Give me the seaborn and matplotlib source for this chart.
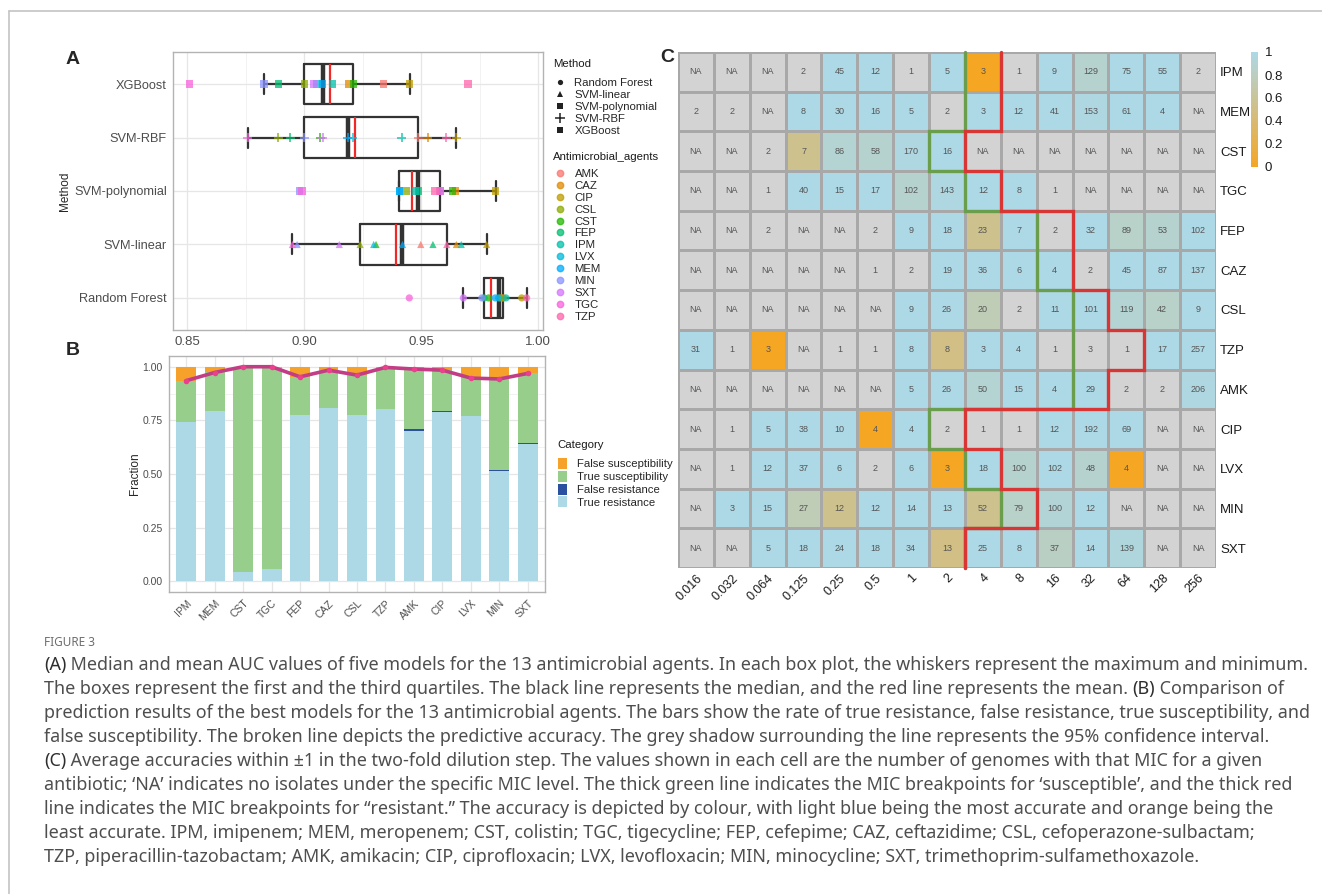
import matplotlib
matplotlib.use("Agg")
import matplotlib.pyplot as plt
from matplotlib.colors import LinearSegmentedColormap, ListedColormap
from matplotlib.lines import Line2D
from matplotlib.patches import Patch
import seaborn as sns
import numpy as np
import pandas as pd

# ---------------- Panel A: AUC per method / agent ----------------
agents = ["AMK", "CAZ", "CIP", "CSL", "CST", "FEP", "IPM", "LVX", "MEM", "MIN", "SXT", "TGC", "TZP"]
agent_colors = ["#F8766D", "#E18A00", "#BE9C00", "#8CAB00", "#24B700", "#00BE70", "#00C1AB",
                "#00BBDA", "#00ACFC", "#8B93FF", "#D575FE", "#F962DD", "#FF65AC"]
methods = ["Random Forest", "SVM-linear", "SVM-polynomial", "SVM-RBF", "XGBoost"]
method_order = ["XGBoost", "SVM-RBF", "SVM-polynomial", "SVM-linear", "Random Forest"]

auc_rf = [0.9845, 0.9851, 0.9929, 0.9838, 0.9788, 0.9769, 0.9862, 0.9830, 0.9816, 0.9759, 0.9680, 0.9449, 0.9950]
auc_svm_linear = [0.9498, 0.9650, 0.9779, 0.9239, 0.9307, 0.9550, 0.9671, 0.9297, 0.9420, 0.8970, 0.9150, 0.8950, 0.9609]
auc_svm_poly = [0.9582, 0.9645, 0.9818, 0.9438, 0.9635, 0.9488, 0.9476, 0.9407, 0.9407, 0.8980, 0.9580, 0.8991, 0.9559]
auc_svm_rbf = [0.9488, 0.9528, 0.9650, 0.8890, 0.9068, 0.8940, 0.9417, 0.9207, 0.9186, 0.9001, 0.9080, 0.8759, 0.9607]
auc_xgb = [0.9340, 0.9190, 0.9450, 0.9000, 0.9210, 0.8890, 0.9120, 0.9055, 0.9080, 0.8829, 0.9040, 0.8510, 0.9700]

# ---------------- Panel B: prediction categories ----------------
b_agents = ["IPM", "MEM", "CST", "TGC", "FEP", "CAZ", "CSL", "TZP", "AMK", "CIP", "LVX", "MIN", "SXT"]
true_res = [0.744, 0.795, 0.042, 0.057, 0.776, 0.806, 0.773, 0.803, 0.702, 0.790, 0.769, 0.512, 0.641]
false_res = [0.000, 0.000, 0.000, 0.000, 0.000, 0.000, 0.003, 0.000, 0.009, 0.002, 0.000, 0.008, 0.003]
true_sus = [0.191, 0.180, 0.958, 0.943, 0.177, 0.178, 0.185, 0.194, 0.278, 0.192, 0.178, 0.423, 0.326]
false_sus = [0.065, 0.025, 0.000, 0.000, 0.047, 0.016, 0.039, 0.003, 0.011, 0.016, 0.053, 0.057, 0.030]
accuracy = [0.935, 0.973, 1.000, 1.000, 0.953, 0.984, 0.961, 0.997, 0.989, 0.984, 0.947, 0.943, 0.969]

# ---------------- Panel C: MIC heatmap ----------------
mic_levels = ["0.016", "0.032", "0.064", "0.125", "0.25", "0.5", "1", "2", "4", "8", "16", "32", "64", "128", "256"]
c_agents = ["IPM", "MEM", "CST", "TGC", "FEP", "CAZ", "CSL", "TZP", "AMK", "CIP", "LVX", "MIN", "SXT"]
counts = [
    ["NA", "NA", "NA", "2", "45", "12", "1", "5", "3", "1", "9", "129", "75", "55", "2"],
    ["2", "2", "NA", "8", "30", "16", "5", "2", "3", "12", "41", "153", "61", "4", "NA"],
    ["NA", "NA", "2", "7", "86", "58", "170", "16", "NA", "NA", "NA", "NA", "NA", "NA", "NA"],
    ["NA", "NA", "1", "40", "15", "17", "102", "143", "12", "8", "1", "NA", "NA", "NA", "NA"],
    ["NA", "NA", "2", "NA", "NA", "2", "9", "18", "23", "7", "2", "32", "89", "53", "102"],
    ["NA", "NA", "NA", "NA", "NA", "1", "2", "19", "36", "6", "4", "2", "45", "87", "137"],
    ["NA", "NA", "NA", "NA", "NA", "NA", "9", "26", "20", "2", "11", "101", "119", "42", "9"],
    ["31", "1", "3", "NA", "1", "1", "8", "8", "3", "4", "1", "3", "1", "17", "257"],
    ["NA", "NA", "NA", "NA", "NA", "NA", "5", "26", "50", "15", "4", "29", "2", "2", "206"],
    ["NA", "1", "5", "38", "10", "4", "4", "2", "1", "1", "12", "192", "69", "NA", "NA"],
    ["NA", "1", "12", "37", "6", "2", "6", "3", "18", "100", "102", "48", "4", "NA", "NA"],
    ["NA", "3", "15", "27", "12", "12", "14", "13", "52", "79", "100", "12", "NA", "NA", "NA"],
    ["NA", "NA", "5", "18", "24", "18", "34", "13", "25", "8", "37", "14", "139", "NA", "NA"],
]
n = np.nan
acc_grid = [
    [n, n, n, n, 1, 1, n, 1, 0, n, 1, 0.88, 1, 1, n],
    [n, n, n, 1, 1, 1, 1, n, 1, 1, 1, 0.97, 1, 1, n],
    [n, n, n, 0.55, 0.90, 0.88, 0.97, 1, n, n, n, n, n, n, n],
    [n, n, n, 1, 1, 1, 0.88, 0.97, 1, 1, n, n, n, n, n],
    [n, n, n, n, n, n, 1, 1, 0.55, 1, n, 1, 0.85, 0.88, 1],
    [n, n, n, n, n, n, n, 1, 1, 1, 1, n, 1, 1, 1],
    [n, n, n, n, n, n, 1, 1, 0.75, n, 1, 1, 0.90, 0.85, 1],
    [1, n, 0, n, n, n, 1, 0.50, 1, 1, n, n, n, 1, 1],
    [n, n, n, n, n, n, 1, 1, 0.90, 1, 1, 1, n, n, 0.97],
    [n, n, 1, 1, 1, 0, 1, n, n, n, 1, 1, 1, n, n],
    [n, n, 1, 1, 1, n, 1, 0, 1, 0.88, 1, 0.88, 0, n, n],
    [n, 1, 1, 0.75, 0.55, 1, 1, 1, 0.55, 0.85, 0.92, 1, n, n, n],
    [n, n, 1, 1, 1, 1, 1, 0.50, 1, 1, 0.82, 1, 0.95, n, n],
]
# breakpoint boundaries (column index of left edge) per row
green_bp = [8, 8, 7, 8, 10, 10, 11, 11, 11, 7, 8, 9, 8]
red_bp = [9, 9, 8, 9, 11, 11, 12, 13, 12, 8, 9, 10, 8]

caption_lines = [
    [("(A)", True), (" Median and mean AUC values of five models for the 13 antimicrobial agents. In each box plot, the whiskers represent the maximum and minimum.", False)],
    [("The boxes represent the first and the third quartiles. The black line represents the median, and the red line represents the mean. ", False), ("(B)", True), (" Comparison of", False)],
    [("prediction results of the best models for the 13 antimicrobial agents. The bars show the rate of true resistance, false resistance, true susceptibility, and", False)],
    [("false susceptibility. The broken line depicts the predictive accuracy. The grey shadow surrounding the line represents the 95% confidence interval.", False)],
    [("(C)", True), (" Average accuracies within \u00b11 in the two-fold dilution step. The values shown in each cell are the number of genomes with that MIC for a given", False)],
    [("antibiotic; \u2018NA\u2019 indicates no isolates under the specific MIC level. The thick green line indicates the MIC breakpoints for \u2018susceptible\u2019, and the thick red", False)],
    [("line indicates the MIC breakpoints for \u201cresistant.\u201d The accuracy is depicted by colour, with light blue being the most accurate and orange being the", False)],
    [("least accurate. IPM, imipenem; MEM, meropenem; CST, colistin; TGC, tigecycline; FEP, cefepime; CAZ, ceftazidime; CSL, cefoperazone-sulbactam;", False)],
    [("TZP, piperacillin-tazobactam; AMK, amikacin; CIP, ciprofloxacin; LVX, levofloxacin; MIN, minocycline; SXT, trimethoprim-sulfamethoxazole.", False)],
]

sns.set_style("white")
plt.rcParams["font.family"] = ["Liberation Sans", "DejaVu Sans"]

W, H = 1322, 894
fig = plt.figure(figsize=(W / 100, H / 100), dpi=100)


def px_box(l, t, r, b):
    return [l / W, 1 - b / H, (r - l) / W, (b - t) / H]


def style_panel(ax):
    for s in ax.spines.values():
        s.set_color("#B3B3B3")
        s.set_linewidth(1.0)
    ax.tick_params(which="both", length=2.5, color="#B3B3B3", labelcolor="#4D4D4D", pad=2)
    ax.tick_params(which="minor", length=0)
    ax.set_axisbelow(True)


# ---------------- Panel A ----------------
axA = fig.add_axes(px_box(173, 52, 543, 330))
auc_table = {"Random Forest": auc_rf, "SVM-linear": auc_svm_linear, "SVM-polynomial": auc_svm_poly,
             "SVM-RBF": auc_svm_rbf, "XGBoost": auc_xgb}
df_auc = pd.concat([pd.DataFrame({"method": m, "agent": agents, "auc": v}) for m, v in auc_table.items()],
                   ignore_index=True)
palette = dict(zip(agents, agent_colors))
method_markers = {"Random Forest": "o", "SVM-linear": "^", "SVM-polynomial": "s", "SVM-RBF": "+", "XGBoost": "s"}

sns.boxplot(data=df_auc, x="auc", y="method", order=method_order, orient="h", width=0.75, whis=1.5,
            showfliers=False, fill=False, color="#333333", linewidth=1.6,
            showmeans=True, meanline=True,
            meanprops=dict(color="#F02828", linewidth=1.6, linestyle="-"),
            medianprops=dict(color="#333333", linewidth=3.2), ax=axA)

for m in methods:
    sub = df_auc[df_auc["method"] == m]
    mk = method_markers[m]
    kw = dict(linewidth=1.3, edgecolor="face") if mk == "+" else dict(linewidth=0)
    sns.stripplot(data=sub, x="auc", y="method", order=method_order, hue="agent", hue_order=agents,
                  palette=palette, jitter=False, marker=mk, size=5.2 if mk != "+" else 6.5,
                  alpha=0.75, legend=False, zorder=4, ax=axA, **kw)

axA.set_xlim(0.844, 1.002)
axA.set_ylim(4.6, -0.6)
axA.set_xticks([0.85, 0.90, 0.95, 1.00])
axA.set_xticklabels(["0.85", "0.90", "0.95", "1.00"], fontsize=9.5)
axA.set_xticks([0.875, 0.925, 0.975], minor=True)
axA.tick_params(axis="y", labelsize=9.2)
axA.grid(True, which="major", color="#E6E6E6", linewidth=0.9)
axA.grid(True, which="minor", axis="x", color="#F0F0F0", linewidth=0.6)
axA.set_xlabel("")
axA.set_ylabel("Method", fontsize=8.5, labelpad=2)
style_panel(axA)

# legends: titles as separate text so the gap under each title matches
leg_size = 8.2
leg_kw = dict(loc="upper left", frameon=False, fontsize=leg_size, handlelength=1.0,
              handletextpad=0.8, borderpad=0, borderaxespad=0)

method_handles = []
for m in methods:
    mk = method_markers[m]
    method_handles.append(Line2D([], [], marker=mk, color="#222222", linestyle="",
                                 markersize=3.8 if mk != "+" else 6.5, markeredgewidth=1.1 if mk == "+" else 0))
fig.text(553 / W, 1 - 64 / H, "Method", fontsize=leg_size, va="center", color="#1A1A1A")
fig.legend(handles=method_handles, labels=methods, labelspacing=0.18,
           bbox_to_anchor=(554 / W, 1 - 78 / H), **leg_kw)

agent_handles = [Line2D([], [], marker="o", color=c, alpha=0.75, linestyle="", markersize=4.6) for c in agent_colors]
fig.text(553 / W, 1 - 157 / H, "Antimicrobial_agents", fontsize=leg_size, va="center", color="#1A1A1A")
fig.legend(handles=agent_handles, labels=agents, labelspacing=0.165,
           bbox_to_anchor=(554 / W, 1 - 169 / H), **leg_kw)

# ---------------- Panel B ----------------
axB = fig.add_axes(px_box(169, 356, 545, 592))
tr = np.array(true_res)
fr = np.array(false_res)
ts = np.array(true_sus)
fs = np.array(false_sus)
cat_colors = {"False susceptibility": "#F5A12A", "True susceptibility": "#98CE8B",
              "False resistance": "#2B50A0", "True resistance": "#ADD8E6"}
stack_tops = [("False susceptibility", tr + fr + ts + fs), ("True susceptibility", tr + fr + ts),
              ("False resistance", tr + fr), ("True resistance", tr)]
for name, top in stack_tops:
    sns.barplot(x=b_agents, y=top, color=cat_colors[name], saturation=1, width=0.7, linewidth=0, ax=axB)
sns.pointplot(x=b_agents, y=accuracy, color="#C23D85", markers="o", linewidth=2.6, markersize=4,
              markerfacecolor="#EC3F8D", markeredgewidth=0, errorbar=None, ax=axB)
axB.set_ylim(-0.05, 1.05)
axB.set_xlim(-0.6, 12.6)
axB.set_yticks([0, 0.25, 0.5, 0.75, 1.0])
axB.set_yticklabels(["0.00", "0.25", "0.50", "0.75", "1.00"], fontsize=7.5)
axB.set_yticks([0.125, 0.375, 0.625, 0.875], minor=True)
axB.set_xticks(range(len(b_agents)))
axB.set_xticklabels(b_agents, rotation=45, ha="right", rotation_mode="anchor", fontsize=7.5)
axB.grid(True, which="major", color="#E6E6E6", linewidth=0.9)
axB.grid(True, which="minor", axis="y", color="#F0F0F0", linewidth=0.6)
axB.set_ylabel("Fraction", fontsize=8.5, labelpad=1)
axB.set_xlabel("")
style_panel(axB)

cat_handles = [Patch(facecolor=cat_colors[k], edgecolor="none") for k in cat_colors]
fig.text(557 / W, 1 - 445 / H, "Category", fontsize=leg_size, va="center", color="#1A1A1A")
fig.legend(handles=cat_handles, labels=list(cat_colors), handleheight=1.1, labelspacing=0.13,
           bbox_to_anchor=(558 / W, 1 - 458 / H), **dict(leg_kw, handlelength=0.8, handletextpad=0.9))

# ---------------- Panel C ----------------
axC = fig.add_axes(px_box(678, 52, 1216, 568))
cax = fig.add_axes(px_box(1251, 52, 1258, 167))
acc_df = pd.DataFrame(acc_grid, index=c_agents, columns=mic_levels)
cmap = LinearSegmentedColormap.from_list("acc", ["#F5A623", "#ADD8E6"])
sns.heatmap(np.zeros((len(c_agents), len(mic_levels))), cmap=ListedColormap(["#D3D3D3"]), cbar=False,
            annot=np.array(counts), fmt="", annot_kws=dict(size=6.5, color="#555555"),
            linewidths=0.8, linecolor="#A8A8A8", ax=axC)
sns.heatmap(acc_df, cmap=cmap, vmin=0, vmax=1, cbar_ax=cax, linewidths=0.8, linecolor="#A8A8A8",
            xticklabels=mic_levels, yticklabels=c_agents, ax=axC)


def step_path(bounds):
    xs, ys = [], []
    for r, b in enumerate(bounds):
        xs += [b, b]
        ys += [r, r + 1]
    return xs, ys


gx, gy = step_path(green_bp)
rx, ry = step_path(red_bp)
axC.plot(gx, gy, color="#6A9E4C", linewidth=2.4, solid_joinstyle="miter", clip_on=False, zorder=5)
axC.plot(rx, ry, color="#D83535", linewidth=2.4, solid_joinstyle="miter", clip_on=False, zorder=6)

axC.yaxis.tick_right()
axC.set_yticklabels(c_agents, rotation=0, fontsize=9.5, color="#1A1A1A")
axC.set_xticklabels(mic_levels, rotation=45, ha="right", rotation_mode="anchor", fontsize=9, color="#1A1A1A")
axC.tick_params(length=0, pad=3)
axC.set_xlabel("")
axC.set_ylabel("")
cax.set_yticks([0, 0.2, 0.4, 0.6, 0.8, 1.0])
cax.set_yticklabels(["0", "0.2", "0.4", "0.6", "0.8", "1"], fontsize=9.5, color="#1A1A1A")
cax.tick_params(length=2, color="white", pad=3)
for s in cax.spines.values():
    s.set_visible(False)

# ---------------- Panel letters and frame ----------------
fig.text(73 / W, 1 - 59 / H, "A", fontsize=14, fontweight="bold", va="center", ha="center")
fig.text(73 / W, 1 - 351 / H, "B", fontsize=14, fontweight="bold", va="center", ha="center")
fig.text(667 / W, 1 - 58 / H, "C", fontsize=14, fontweight="bold", va="center", ha="center")
fig.add_artist(Line2D([9 / W, 1], [1 - 11 / H, 1 - 11 / H], color="#C4C4C4", linewidth=1.2))
fig.add_artist(Line2D([9 / W, 9 / W], [0, 1 - 11 / H], color="#C4C4C4", linewidth=1.2))

# ---------------- Caption ----------------
cap_family = ["Noto Sans", "DejaVu Sans"]
renderer = fig.canvas.get_renderer()


def seg_width(s, size, bold):
    t1 = fig.text(0, 0, s + "|", fontsize=size, fontweight="bold" if bold else "normal", family=cap_family)
    t2 = fig.text(0, 0, "|", fontsize=size, fontweight="bold" if bold else "normal", family=cap_family)
    w = t1.get_window_extent(renderer).width - t2.get_window_extent(renderer).width
    t1.remove()
    t2.remove()
    return w


w10 = sum(seg_width(s, 10, b) for s, b in caption_lines[0])
cap_size = 10 * 1262 / w10

fig.text(44 / W, 1 - 642 / H, "FIGURE 3", fontsize=8.5, color="#6E6E6E", family=cap_family, va="center")
for i, line in enumerate(caption_lines):
    x = 44.0
    y = 665 + 24 * i
    for s, b in line:
        fig.text(x / W, 1 - y / H, s, fontsize=cap_size, fontweight="bold" if b else "normal",
                 color="#2E2E2E" if b else "#4E4E4E", family=cap_family, va="center")
        x += seg_width(s, cap_size, b)

fig.savefig("out.png", dpi=100)
